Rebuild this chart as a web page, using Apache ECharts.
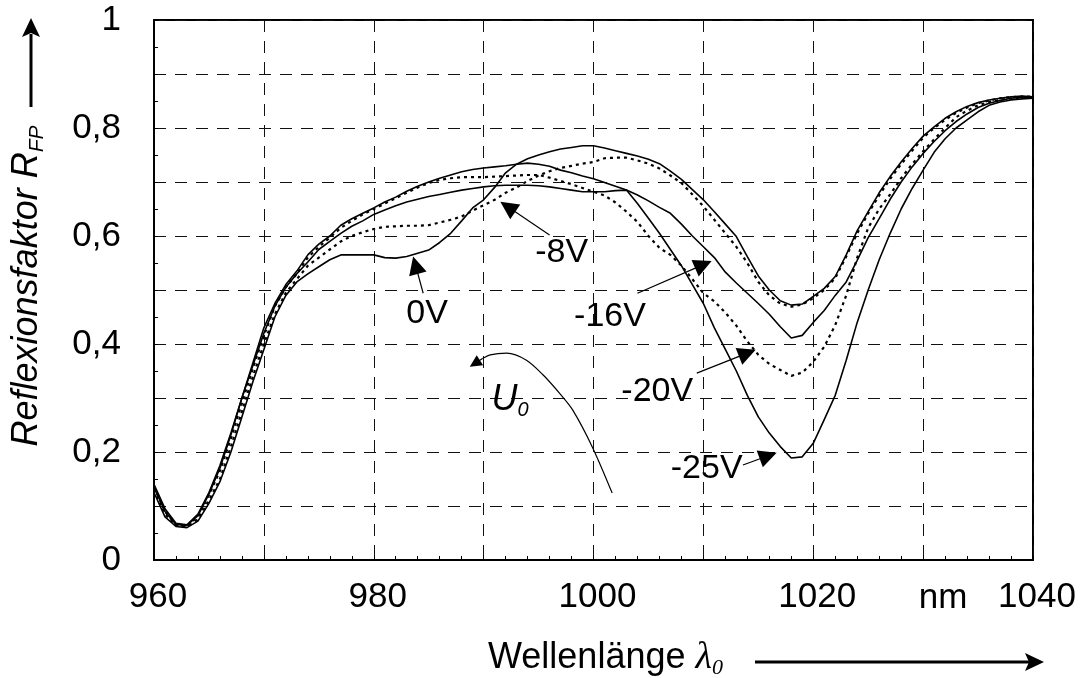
<!DOCTYPE html>
<html>
<head>
<meta charset="utf-8">
<script src="https://cdn.jsdelivr.net/npm/echarts@6/dist/echarts.min.js"></script>
<style>
  html, body { margin: 0; padding: 0; background: #fff; }
  #chart { width: 1083px; height: 678px; }
</style>
</head>
<body>
<div id="chart"></div>
<script>
// Wavelength grid (nm)
const wavelengthNm = [
  960, 961, 962, 963, 964, 965, 966, 967, 968, 969,
  970, 971, 972, 973, 974, 975, 976, 977, 978, 979,
  980, 981, 982, 983, 984, 985, 986, 987, 988, 989,
  990, 991, 992, 993, 994, 995, 996, 997, 998, 999,
  1000, 1001, 1002, 1003, 1004, 1005, 1006, 1007, 1008, 1009,
  1010, 1011, 1012, 1013, 1014, 1015, 1016, 1017, 1018, 1019,
  1020, 1021, 1022, 1023, 1024, 1025, 1026, 1027, 1028, 1029,
  1030, 1031, 1032, 1033, 1034, 1035, 1036, 1037, 1038, 1039, 1040
];

// Reflection factor R_FP for each bias voltage
const reflect0V = [
  0.125, 0.080, 0.062, 0.060, 0.072, 0.105, 0.145, 0.200, 0.265, 0.330,
  0.390, 0.450, 0.490, 0.515, 0.530, 0.543, 0.556, 0.565, 0.565, 0.565,
  0.565, 0.560, 0.559, 0.562, 0.568, 0.574, 0.588, 0.605, 0.628, 0.652,
  0.667, 0.690, 0.717, 0.733, 0.743, 0.750, 0.756, 0.761, 0.764, 0.767,
  0.767, 0.763, 0.758, 0.753, 0.748, 0.742, 0.734, 0.720, 0.705, 0.686,
  0.667, 0.645, 0.622, 0.599, 0.562, 0.526, 0.500, 0.480, 0.472, 0.474,
  0.488, 0.503, 0.525, 0.565, 0.610, 0.645, 0.680, 0.710, 0.737, 0.762,
  0.785, 0.802, 0.818, 0.830, 0.840, 0.847, 0.852, 0.855, 0.858, 0.859, 0.858
];
const reflectM8V = [
  0.130, 0.085, 0.064, 0.062, 0.075, 0.110, 0.150, 0.210, 0.275, 0.340,
  0.400, 0.455, 0.495, 0.520, 0.545, 0.560, 0.575, 0.590, 0.600, 0.607,
  0.613, 0.617, 0.618, 0.619, 0.619, 0.620, 0.625, 0.630, 0.636, 0.647,
  0.657, 0.667, 0.680, 0.690, 0.702, 0.712, 0.720, 0.726, 0.730, 0.734,
  0.737, 0.744, 0.745, 0.745, 0.740, 0.734, 0.725, 0.712, 0.698, 0.677,
  0.655, 0.630, 0.605, 0.580, 0.550, 0.515, 0.490, 0.475, 0.469, 0.473,
  0.485, 0.500, 0.522, 0.562, 0.605, 0.642, 0.675, 0.706, 0.733, 0.758,
  0.782, 0.800, 0.815, 0.828, 0.838, 0.846, 0.851, 0.855, 0.857, 0.858, 0.858
];
const reflectM16V = [
  0.135, 0.090, 0.066, 0.064, 0.082, 0.122, 0.170, 0.232, 0.300, 0.365,
  0.430, 0.475, 0.510, 0.535, 0.565, 0.585, 0.600, 0.620, 0.632, 0.642,
  0.652, 0.663, 0.672, 0.683, 0.692, 0.700, 0.707, 0.713, 0.719, 0.723,
  0.726, 0.728, 0.730, 0.733, 0.735, 0.733, 0.729, 0.722, 0.717, 0.711,
  0.706, 0.699, 0.692, 0.685, 0.676, 0.665, 0.653, 0.642, 0.622, 0.600,
  0.580, 0.560, 0.533, 0.513, 0.494, 0.475, 0.455, 0.432, 0.411, 0.416,
  0.440, 0.462, 0.490, 0.515, 0.555, 0.597, 0.632, 0.668, 0.700, 0.728,
  0.753, 0.775, 0.795, 0.812, 0.826, 0.838, 0.846, 0.851, 0.855, 0.857, 0.857
];
const reflectM20V = [
  0.135, 0.090, 0.065, 0.063, 0.080, 0.120, 0.165, 0.225, 0.290, 0.355,
  0.415, 0.470, 0.505, 0.530, 0.560, 0.580, 0.597, 0.615, 0.628, 0.640,
  0.650, 0.660, 0.670, 0.680, 0.690, 0.698, 0.704, 0.707, 0.709, 0.709,
  0.709, 0.710, 0.711, 0.712, 0.713, 0.713, 0.708, 0.702, 0.696, 0.689,
  0.682, 0.675, 0.662, 0.645, 0.626, 0.600, 0.578, 0.565, 0.545, 0.520,
  0.494, 0.479, 0.458, 0.434, 0.405, 0.380, 0.363, 0.352, 0.341, 0.347,
  0.367, 0.395, 0.435, 0.490, 0.560, 0.615, 0.650, 0.677, 0.707, 0.733,
  0.757, 0.779, 0.800, 0.820, 0.832, 0.842, 0.848, 0.852, 0.855, 0.856, 0.856
];
const reflectM25V = [
  0.140, 0.095, 0.068, 0.065, 0.085, 0.125, 0.175, 0.235, 0.300, 0.360,
  0.420, 0.470, 0.505, 0.530, 0.552, 0.575, 0.590, 0.605, 0.618, 0.628,
  0.640, 0.648, 0.656, 0.663, 0.668, 0.673, 0.677, 0.681, 0.685, 0.688,
  0.691, 0.693, 0.694, 0.694, 0.694, 0.693, 0.691, 0.688, 0.685, 0.682,
  0.682, 0.682, 0.684, 0.685, 0.660, 0.633, 0.605, 0.575, 0.545, 0.510,
  0.475, 0.430, 0.390, 0.350, 0.305, 0.265, 0.235, 0.210, 0.189, 0.191,
  0.216, 0.260, 0.305, 0.370, 0.440, 0.500, 0.556, 0.605, 0.650, 0.688,
  0.722, 0.755, 0.780, 0.800, 0.815, 0.830, 0.842, 0.848, 0.852, 0.854, 0.855
];

// Voltage annotations: text, text centre, arrow start, arrow tip (data units)
const voltageText   = ['0V', '-8V', '-16V', '-20V', '-25V'];
const voltageAnchor = [[984.85, 0.457], [997.1, 0.570], [1001.5, 0.450], [1005.8, 0.311], [1010.3, 0.170]];
const arrowFrom     = [[984.5, 0.494], [996.0, 0.602], [1004.0, 0.494], [1009.4, 0.346], [1013.6, 0.176]];
const arrowTo       = [[983.8, 0.546], [992.2, 0.654], [1010.0, 0.547], [1014.0, 0.383], [1015.9, 0.193]];

// Direction of the bias voltage U_0
const u0Path = [[1001.7, 0.124], [999.9, 0.209], [998.1, 0.278], [996.9, 0.309], [995.4, 0.343],
                [993.9, 0.370], [992.1, 0.383], [990.6, 0.380], [989.9, 0.373]];
const u0Tip  = [[989.9, 0.373], [989.2, 0.364]];
const u0Anchor = [992.4, 0.297];

// Axis tick labels
const xTickLabels = { 960: '960', 980: '980', 1000: '1000', 1020: '1020', 1040: '1040' };
const yTickLabels = { 0: '0', 2: '0,2', 4: '0,4', 6: '0,6', 8: '0,8', 10: '1' };

const FONT = '"Liberation Sans", Arial, sans-serif';
const SERIF = '"Liberation Serif", "Times New Roman", serif';

const pairs = vals => wavelengthNm.map((w, i) => [w, vals[i]]);

const solid = (name, vals) => ({
  name, type: 'line', data: pairs(vals), symbol: 'none', silent: true,
  lineStyle: { color: '#000', width: 1.6 }, z: 3
});
const dotted = (name, vals) => ({
  name, type: 'line', data: pairs(vals), symbol: 'none', silent: true,
  lineStyle: { color: '#000', width: 2.2, type: [3, 4] }, z: 3
});
const arrowSeries = (name, segs, size) => ({
  name, type: 'lines', coordinateSystem: 'cartesian2d', silent: true, z: 5,
  symbol: ['none', 'triangle'], symbolSize: size,
  lineStyle: { color: '#000', width: 1.2, opacity: 1, curveness: 0 },
  data: segs.map(c => ({ coords: c }))
});

const chart = echarts.init(document.getElementById('chart'), null, { renderer: 'canvas' });

const option = {
  animation: false,
  backgroundColor: '#fff',
  grid: {
    left: 154, top: 20, right: 50, bottom: 118,
    show: true, borderColor: '#000', borderWidth: 2, backgroundColor: 'transparent'
  },
  xAxis: {
    type: 'value', min: 960, max: 1040, interval: 10,
    axisLine: { show: true, onZero: false, lineStyle: { color: '#000', width: 2 } },
    axisTick: { show: true, inside: true, length: 4, lineStyle: { color: '#000', width: 1 } },
    minorTick: { show: true, splitNumber: 5, length: 4, lineStyle: { color: '#000', width: 1 } },
    splitLine: { show: true, lineStyle: { color: '#111', width: 1, type: [12, 9] } },
    axisLabel: {
      color: '#000', fontFamily: FONT, fontSize: 35, margin: 20, padding: [0, 0, 0, 8],
      formatter: v => xTickLabels[Math.round(v)] || ''
    }
  },
  yAxis: {
    type: 'value', min: 0, max: 1, interval: 0.1,
    axisLine: { show: true, onZero: false, lineStyle: { color: '#000', width: 2 } },
    axisTick: { show: true, inside: true, length: 4, lineStyle: { color: '#000', width: 1 } },
    minorTick: { show: true, splitNumber: 2, length: 4, lineStyle: { color: '#000', width: 1 } },
    splitLine: { show: true, lineStyle: { color: '#111', width: 1, type: [12, 9] } },
    axisLabel: {
      color: '#000', fontFamily: FONT, fontSize: 35, margin: 33,
      formatter: v => { const k = Math.round(v * 10); return yTickLabels[k] !== undefined ? yTickLabels[k] : ''; }
    }
  },
  series: [
    solid('0V', reflect0V),
    dotted('-8V', reflectM8V),
    solid('-16V', reflectM16V),
    dotted('-20V', reflectM20V),
    solid('-25V', reflectM25V),
    {
      name: 'U0', type: 'line', data: u0Path, symbol: 'none', smooth: 0.3, silent: true,
      lineStyle: { color: '#000', width: 1.2 }, z: 4
    },
    arrowSeries('voltage arrows', arrowFrom.map((f, i) => [f, arrowTo[i]]), 18),
    arrowSeries('U0 arrow', [u0Tip], 12)
  ]
};
chart.setOption(option);

// Text annotations placed at data coordinates
const toPx = p => chart.convertToPixel({ gridIndex: 0 }, p);
const textEl = (pos, text, size) => ({
  type: 'text', x: pos[0], y: pos[1], silent: true, z: 10,
  style: {
    text, fill: '#000', font: size + 'px ' + FONT,
    align: 'center', verticalAlign: 'middle', textAlign: 'center', textVerticalAlign: 'middle'
  }
});

const graphics = voltageText.map((t, i) => textEl(toPx(voltageAnchor[i]), t, 34));

const u0Px = toPx(u0Anchor);
graphics.push({
  type: 'text', x: u0Px[0], y: u0Px[1], silent: true, z: 10,
  style: {
    text: '{m|U}{s|0}', fill: '#000',
    align: 'center', verticalAlign: 'middle', textAlign: 'center', textVerticalAlign: 'middle',
    rich: {
      m: { fontFamily: FONT, fontStyle: 'italic', fontSize: 36, lineHeight: 42, fill: '#000' },
      s: { fontFamily: FONT, fontStyle: 'italic', fontSize: 20, lineHeight: 14, verticalAlign: 'bottom', fill: '#000' }
    }
  }
});

// Unit label between the last two tick labels
graphics.push(textEl([943, 598], 'nm', 35));

// Y axis title with arrow
graphics.push({
  type: 'text', x: 27, y: 286, rotation: Math.PI / 2, silent: true, z: 10,
  style: {
    text: '{m|Reflexionsfaktor R}{s|FP}', fill: '#000',
    align: 'center', verticalAlign: 'middle', textAlign: 'center', textVerticalAlign: 'middle',
    rich: {
      m: { fontFamily: FONT, fontStyle: 'italic', fontSize: 36, lineHeight: 42, fill: '#000' },
      s: { fontFamily: FONT, fontStyle: 'italic', fontSize: 21, lineHeight: 12, verticalAlign: 'bottom', fill: '#000' }
    }
  }
});
graphics.push({ type: 'line', silent: true, shape: { x1: 31, y1: 107, x2: 31, y2: 34 }, style: { stroke: '#000', lineWidth: 3 } });
graphics.push({ type: 'polygon', silent: true, shape: { points: [[31, 18], [22, 37], [31, 33], [40, 37]] }, style: { fill: '#000' } });

// X axis title with arrow
graphics.push({
  type: 'text', x: 488, y: 658, silent: true, z: 10,
  style: {
    text: '{m|Wellenlänge }{g|λ}{s|0}', fill: '#000',
    align: 'left', verticalAlign: 'middle', textAlign: 'left', textVerticalAlign: 'middle',
    rich: {
      m: { fontFamily: FONT, fontSize: 36, lineHeight: 42, fill: '#000' },
      g: { fontFamily: SERIF, fontStyle: 'italic', fontSize: 38, lineHeight: 42, fill: '#000' },
      s: { fontFamily: SERIF, fontStyle: 'italic', fontSize: 22, lineHeight: 12, verticalAlign: 'bottom', fill: '#000' }
    }
  }
});
graphics.push({ type: 'line', silent: true, shape: { x1: 755, y1: 662, x2: 1030, y2: 662 }, style: { stroke: '#000', lineWidth: 3 } });
graphics.push({ type: 'polygon', silent: true, shape: { points: [[1044, 662], [1025, 653], [1029, 662], [1025, 671]] }, style: { fill: '#000' } });

chart.setOption({ graphic: graphics });
</script>
</body>
</html>
